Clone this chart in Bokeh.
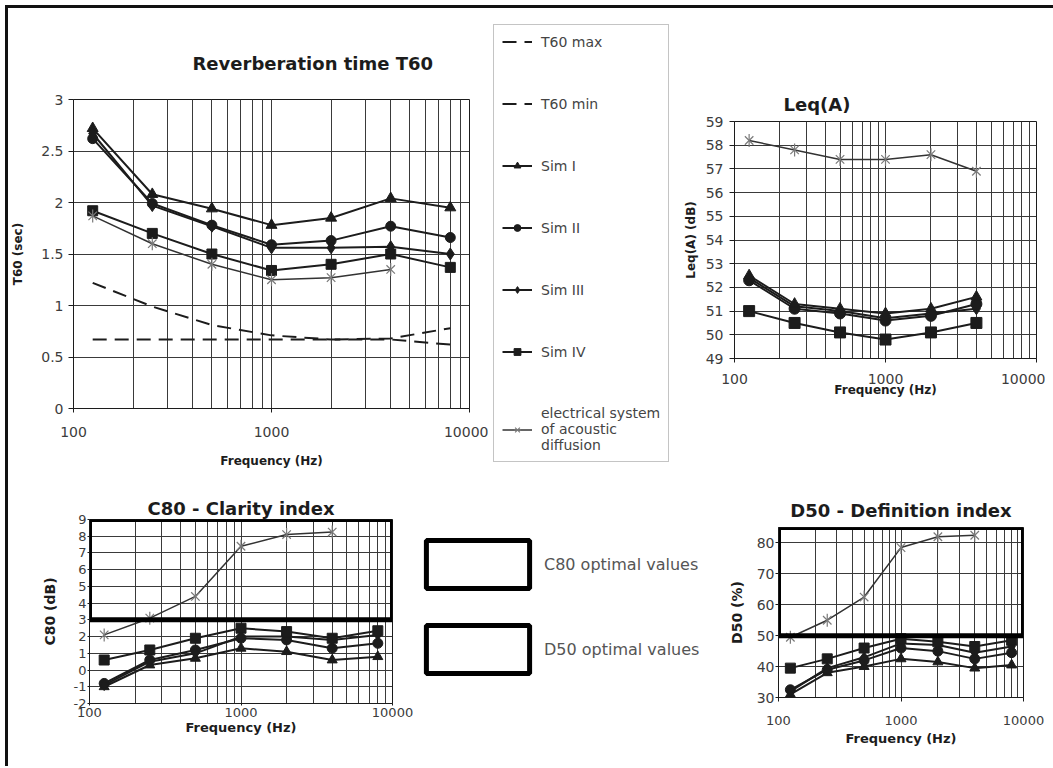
import math
from bokeh.plotting import figure
from bokeh.layouts import column, row
from bokeh.models import FixedTicker, Legend, LegendItem, Range1d
from bokeh.embed import file_html
from bokeh.resources import INLINE

FONT = "DejaVu Sans"
INK = "#1c1c1c"
GRID = "#3a3a3a"
TICK_TXT = "#3c3c3c"
STAR = "#7a7a7a"

# ---------------- data ----------------
freq = [125, 250, 500, 1000, 2000, 4000, 8000]
freq_6 = [125, 250, 500, 1000, 2000, 4000]

x_major = [100, 1000, 10000]
x_minor = [200, 300, 400, 500, 600, 700, 800, 900,
           2000, 3000, 4000, 5000, 6000, 7000, 8000, 9000]
x_labels = ["100", "1000", "10000"]

# Reverberation time T60 (sec)
t60_max = [1.22, 0.99, 0.81, 0.71, 0.67, 0.67, 0.62]
t60_min = [0.67, 0.67, 0.67, 0.67, 0.67, 0.68, 0.78]
t60_sim1 = [2.72, 2.08, 1.94, 1.78, 1.85, 2.04, 1.95]
t60_sim2 = [2.62, 1.99, 1.78, 1.59, 1.63, 1.77, 1.66]
t60_sim3 = [2.67, 1.97, 1.77, 1.56, 1.56, 1.57, 1.50]
t60_sim4 = [1.92, 1.70, 1.50, 1.34, 1.40, 1.50, 1.37]
t60_elec = [1.87, 1.60, 1.40, 1.25, 1.27, 1.35]
t60_ticks = [0, 0.5, 1, 1.5, 2, 2.5, 3]

# Leq(A) (dB)
leq_sim1 = [52.5, 51.3, 51.1, 50.9, 51.1, 51.6]
leq_sim2 = [52.3, 51.1, 50.9, 50.6, 50.8, 51.3]
leq_sim3 = [52.4, 51.2, 51.0, 50.7, 50.9, 51.1]
leq_sim4 = [51.0, 50.5, 50.1, 49.8, 50.1, 50.5]
leq_elec = [58.2, 57.8, 57.4, 57.4, 57.6, 56.9]
leq_ticks = [49, 50, 51, 52, 53, 54, 55, 56, 57, 58, 59]

# C80 - Clarity index (dB)
c80_sim1 = [-1.0, 0.3, 0.7, 1.3, 1.1, 0.6, 0.8]
c80_sim2 = [-0.8, 0.6, 1.2, 1.9, 1.8, 1.3, 1.6]
c80_sim3 = [-0.9, 0.5, 1.0, 2.0, 2.0, 1.8, 2.1]
c80_sim4 = [0.6, 1.2, 1.9, 2.5, 2.3, 1.9, 2.35]
c80_elec = [2.1, 3.1, 4.4, 7.4, 8.1, 8.25]
c80_ticks = [-2, -1, 0, 1, 2, 3, 4, 5, 6, 7, 8, 9]
c80_optimal = [3, 9]

# D50 - Definition index (%)
d50_sim1 = [31.0, 38.0, 40.0, 42.5, 41.5, 39.5, 40.5]
d50_sim2 = [32.5, 39.0, 42.0, 46.0, 45.0, 42.5, 44.5]
d50_sim3 = [32.0, 39.5, 43.0, 47.5, 47.0, 44.5, 46.5]
d50_sim4 = [39.5, 42.5, 46.0, 49.0, 48.0, 46.5, 48.5]
d50_elec = [49.5, 55.0, 62.5, 78.5, 82.0, 82.5]
d50_ticks = [30, 40, 50, 60, 70, 80]
d50_optimal = [50, 85]

X_LO, X_HI = 100, 10000


def fmt(v):
    return ("%g" % v)


def make_fig(w, h, mb, y_range, y_ticks, ylabel, title, tick_fs, xtick_fs,
             lab_fs, ytick_out, ytick_sd, ylab_sd, xtick_out, xtick_sd, xlab_sd):
    p = figure(width=w, height=h, x_axis_type="log", x_range=(X_LO, X_HI),
               y_range=y_range, output_backend="svg", toolbar_location=None,
               min_border_left=mb[0], min_border_right=mb[1],
               min_border_top=mb[2], min_border_bottom=mb[3])
    p.background_fill_color = "white"
    p.border_fill_color = "white"
    p.outline_line_color = INK
    p.outline_line_width = 1

    xt = FixedTicker(ticks=x_major, minor_ticks=x_minor)
    yt = FixedTicker(ticks=y_ticks, minor_ticks=[])
    p.xaxis.ticker = xt
    p.yaxis.ticker = yt
    p.xgrid.ticker = xt
    p.ygrid.ticker = yt
    p.xaxis.major_label_overrides = {v: s for v, s in zip(x_major, x_labels)}
    p.yaxis.major_label_overrides = {v: fmt(v) for v in y_ticks}

    p.xgrid.grid_line_color = GRID
    p.xgrid.minor_grid_line_color = GRID
    p.xgrid.grid_line_width = 1
    p.xgrid.minor_grid_line_width = 1
    p.ygrid.grid_line_color = GRID
    p.ygrid.grid_line_width = 1

    for ax in (p.xaxis[0], p.yaxis[0]):
        ax.axis_line_color = INK
        ax.major_tick_line_color = INK
        ax.minor_tick_line_color = None
        ax.major_tick_in = 0
        ax.major_label_text_font = FONT
        ax.major_label_text_color = TICK_TXT
        ax.axis_label_text_font = FONT
        ax.axis_label_text_font_style = "bold"
        ax.axis_label_text_color = INK
        ax.axis_label_text_font_size = lab_fs

    p.yaxis.major_label_text_font_size = tick_fs
    p.xaxis.major_label_text_font_size = xtick_fs
    p.yaxis.major_tick_out = ytick_out
    p.yaxis.major_label_standoff = ytick_sd
    p.yaxis.axis_label_standoff = ylab_sd
    p.xaxis.major_tick_out = xtick_out
    p.xaxis.major_label_standoff = xtick_sd
    p.xaxis.axis_label_standoff = xlab_sd
    p.yaxis.axis_label = ylabel
    p.xaxis.axis_label = "Frequency (Hz)"

    p.title.text = title
    p.title.text_font = FONT
    p.title.text_font_style = "bold"
    p.title.text_font_size = "18px"
    p.title.text_color = INK
    return p


def key_fig(w, h):
    # a bare panel that only carries a legend (no axes, no grid)
    k = figure(width=w, height=h, x_axis_type="log", x_range=Range1d(X_LO, X_HI),
               y_range=Range1d(0, 1), output_backend="svg", toolbar_location=None,
               x_axis_location=None, y_axis_location=None,
               min_border_left=0, min_border_right=0, min_border_top=0, min_border_bottom=0)
    k.grid.visible = False
    k.outline_line_color = None
    k.background_fill_color = "white"
    k.border_fill_color = "white"
    return k


def sim(p, x, y, marker, size, visible=True):
    rl = p.line(x, y, line_color=INK, line_width=2, visible=visible)
    rm = p.scatter(x, y, marker=marker, size=size, fill_color=INK, line_color=INK,
                   visible=visible)
    return [rl, rm]


def elec(p, x, y, visible=True):
    rl = p.line(x, y, line_color="#333333", line_width=1.5, visible=visible)
    rx = p.scatter(x, y, marker="x", size=12, line_color=STAR, line_width=1.2,
                   visible=visible)
    rv = p.scatter(x, y, marker="dash", angle=math.pi / 2, size=13,
                   line_color=STAR, line_width=1.2, visible=visible)
    return [rl, rx, rv]


def limits(p, visible=True):
    a = p.line(freq, t60_max, line_color=INK, line_width=2, line_dash="14 8", visible=visible)
    b = p.line(freq, t60_min, line_color=INK, line_width=2, line_dash="14 8", visible=visible)
    return a, b


# ---------------- T60 ----------------
p1 = make_fig(480, 476, (65, 19, 91, 76), (0, 3), t60_ticks, "T60 (sec)",
              "Reverberation time T60", "14px", "14px", "12px",
              5, 5, 13, 4, 14, 14)
p1.title.align = "left"
p1.title.offset = 119
p1.title.standoff = 51
limits(p1)
sim(p1, freq, t60_sim1, "triangle", 11)
sim(p1, freq, t60_sim2, "circle", 10)
sim(p1, freq, t60_sim3, "diamond", 12)
sim(p1, freq, t60_sim4, "square", 10)
elec(p1, freq_6, t60_elec)

# legend panel for the T60 series (hidden copies of the same series feed the key)
k1 = key_fig(192, 476)
k_max, k_min = limits(k1, visible=False)
k_s1 = sim(k1, freq, t60_sim1, "triangle", 11, visible=False)
k_s2 = sim(k1, freq, t60_sim2, "circle", 10, visible=False)
k_s3 = sim(k1, freq, t60_sim3, "diamond", 12, visible=False)
k_s4 = sim(k1, freq, t60_sim4, "square", 10, visible=False)
k_se = elec(k1, freq_6, t60_elec, visible=False)
leg = Legend(items=[
    LegendItem(label="T60 max", renderers=[k_max]),
    LegendItem(label="T60 min", renderers=[k_min]),
    LegendItem(label="Sim I", renderers=k_s1),
    LegendItem(label="Sim II", renderers=k_s2),
    LegendItem(label="Sim III", renderers=k_s3),
    LegendItem(label="Sim IV", renderers=k_s4),
    LegendItem(label="electrical system\nof acoustic\ndiffusion", renderers=k_se),
], location=(5, 22))
leg.margin = 0
leg.padding = 8
leg.spacing = 45
leg.glyph_width = 30
leg.glyph_height = 17
leg.label_height = 17
leg.label_standoff = 9
leg.label_text_font = FONT
leg.label_text_font_size = "14px"
leg.label_text_color = "#444444"
leg.label_text_line_height = 1.05
leg.border_line_color = "#8a8a8a"
leg.border_line_width = 1
leg.background_fill_color = "white"
leg.background_fill_alpha = 1
k1.add_layout(leg, "center")

# ---------------- Leq(A) ----------------
p2 = make_fig(365, 476, (53, 9, 113, 126), (49, 59), leq_ticks, "Leq(A) (dB)",
              "Leq(A)", "14px", "14px", "12px",
              5, 6, 5, 4, 11, -4)
p2.title.align = "left"
p2.title.offset = 49
p2.title.standoff = 14
sim(p2, freq_6, leq_sim3, "diamond", 12)
sim(p2, freq_6, leq_sim2, "circle", 11)
sim(p2, freq_6, leq_sim1, "triangle", 11)
sim(p2, freq_6, leq_sim4, "square", 11)
elec(p2, freq_6, leq_elec)

# ---------------- C80 ----------------
p3 = make_fig(405, 270, (81, 21, 35, 51), (-2, 9), c80_ticks, "C80 (dB)",
              "C80 - Clarity index", "13px", "13px", "14px",
              2, 1, 13, 2, 0, 0)
p3.xaxis.axis_label_text_font_size = "13px"
p3.title.align = "center"
p3.title.standoff = 1
sim(p3, freq, c80_sim1, "triangle", 10)
sim(p3, freq, c80_sim2, "circle", 10)
sim(p3, freq, c80_sim3, "diamond", 11)
sim(p3, freq, c80_sim4, "square", 10)
elec(p3, freq_6, c80_elec)
p3.quad(left=[X_LO], right=[X_HI], bottom=[c80_optimal[0]], top=[c80_optimal[1]],
        fill_alpha=0, line_color="black", line_width=5)

# ---------------- D50 ----------------
p4 = make_fig(320, 270, (50, 22, 43, 57), (30, 85), d50_ticks, "D50 (%)",
              "D50 - Definition index", "14px", "13px", "14px",
              3, 1, 9, 4, 14, 3)
p4.xaxis.axis_label_text_font_size = "13px"
p4.title.align = "center"
p4.title.standoff = 13
sim(p4, freq, d50_sim1, "triangle", 10)
sim(p4, freq, d50_sim2, "circle", 10)
sim(p4, freq, d50_sim3, "diamond", 11)
sim(p4, freq, d50_sim4, "square", 10)
elec(p4, freq_6, d50_elec)
p4.quad(left=[X_LO], right=[X_HI], bottom=[d50_optimal[0]], top=[d50_optimal[1]],
        fill_alpha=0, line_color="black", line_width=5)

# key panel for the two optimal-value zones (hidden copies of the zone boxes)
k2 = key_fig(312, 270)
k_c80 = k2.quad(left=[X_LO], right=[X_HI], bottom=[0], top=[1],
                fill_alpha=0, line_color="black", line_width=5, visible=False)
k_d50 = k2.quad(left=[X_LO], right=[X_HI], bottom=[0], top=[1],
                fill_alpha=0, line_color="black", line_width=5, visible=False)
leg2 = Legend(items=[
    LegendItem(label="C80 optimal values", renderers=[k_c80]),
    LegendItem(label="D50 optimal values", renderers=[k_d50]),
], location=(0, 75))
leg2.margin = 0
leg2.padding = 0
leg2.spacing = 25
leg2.glyph_width = 129
leg2.glyph_height = 60
leg2.label_standoff = 2
leg2.label_text_font = FONT
leg2.label_text_font_size = "16px"
leg2.label_text_color = "#555555"
leg2.border_line_alpha = 0
leg2.background_fill_alpha = 0
k2.add_layout(leg2, "center")

layout = column(row(column(p1), column(k1), column(p2)),
                row(column(p3), column(k2), column(p4)),
                styles={"margin-left": "5px", "margin-top": "5px",
                        "padding-right": "8px", "padding-bottom": "12px",
                        "border-left": "3px solid #111111",
                        "border-top": "3px solid #111111"})

open("out.html", "w").write(file_html(layout, INLINE))
